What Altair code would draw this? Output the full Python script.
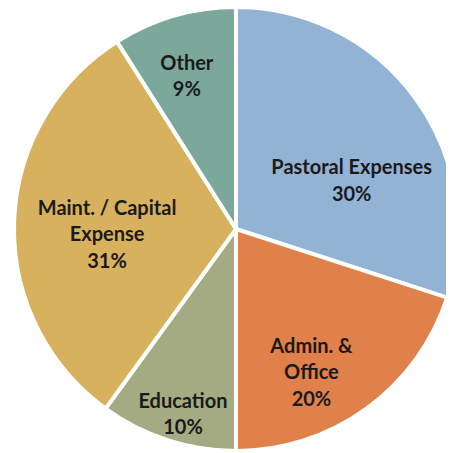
import altair as alt
import pandas as pd

categories = ["Pastoral Expenses", "Admin. & Office", "Education",
              "Maint. / Capital Expense", "Other"]
label_names = ["Pastoral Expenses", "Admin. &\nOffice", "Education",
               "Maint. / Capital\nExpense", "Other"]
shares = [30, 20, 10, 31, 9]
colors = ["#93B3D4", "#E0804A", "#A4AB82", "#D8B15E", "#7BA89B"]

# label layout: distance from the pie centre and nudge (px)
label_radius = [122, 159, 191, 129, 162]
label_dx = [17, -18, 6, 0, -4]
label_dy = [11, -11, -9, -16, -9.5]

df = pd.DataFrame({
    "category": categories,
    "share": shares,
    "order": list(range(len(categories))),
    "label": [f"{n}\n{s}%" for n, s in zip(label_names, shares)],
})

pie = alt.Chart(df).mark_arc(outerRadius=222, stroke="white", strokeWidth=4).encode(
    theta=alt.Theta("share:Q", stack=True, scale=alt.Scale(domain=[0, sum(shares)])),
    order=alt.Order("order:Q"),
    color=alt.Color("category:N", scale=alt.Scale(domain=categories, range=colors), legend=None),
)

layers = [pie]
for i, cat in enumerate(categories):
    t = (
        alt.Chart(df)
        .transform_window(cum="sum(share)", sort=[alt.SortField("order")])
        .transform_calculate(mid="datum.cum - datum.share / 2")
        .transform_filter(alt.datum.category == cat)
        .mark_text(
            font="Lato", fontWeight="bold", fontSize=20, lineBreak="\n",
            lineHeight=26.5, color="#1a1a1a", align="center", baseline="middle",
            radius=label_radius[i], dx=label_dx[i], dy=label_dy[i],
        )
        .encode(
            theta=alt.Theta("mid:Q", stack=None),
            text="label:N",
        )
    )
    layers.append(t)

chart = alt.layer(*layers).properties(
    width=420, height=432,
    padding={"left": 18, "top": 5, "right": 0, "bottom": 8},
    autosize=alt.AutoSizeParams(type="none"),
    background="white",
).configure_view(stroke=None)

chart.save("out.html", embed_options={"renderer": "svg", "actions": False})
